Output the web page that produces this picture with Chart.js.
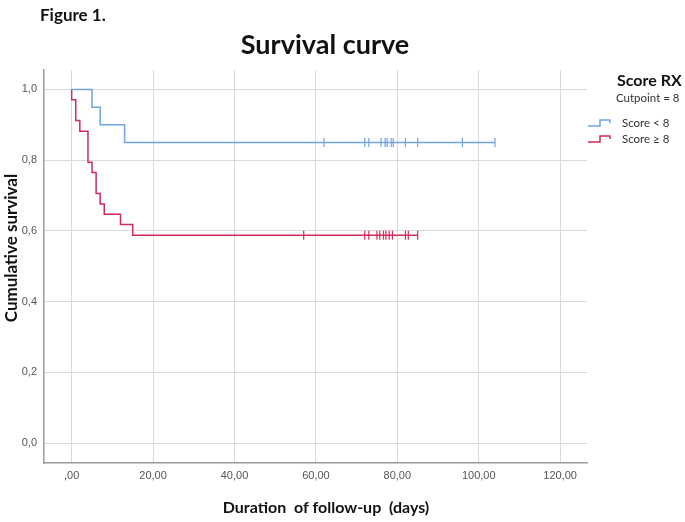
<!DOCTYPE html>
<html>
<head>
<meta charset="utf-8">
<script src="https://cdn.jsdelivr.net/npm/chart.js@4"></script>
<style>
  html, body { margin: 0; padding: 0; background: #fff; }
</style>
</head>
<body>
<canvas id="km" width="685" height="522"></canvas>
<script>
// Kaplan-Meier steps
const lowTimes = [0, 5, 7, 13, 104];
const lowSurv = [1.0, 0.95, 0.90, 0.85, 0.85];
const lowCensored = [62, 72, 73, 76, 77, 77.5, 78.5, 79, 82, 85, 96, 104];

const highTimes = [0, 0, 1, 2, 4, 5, 6, 7, 8, 12, 15, 85];
const highSurv = [1.0, 0.971, 0.912, 0.882, 0.794, 0.765, 0.706, 0.676, 0.647, 0.618, 0.588, 0.588];
const highCensored = [57, 72, 73, 75, 75.7, 76.6, 77.2, 78, 78.8, 82, 82.7, 85];

const xTickValues = [0, 20, 40, 60, 80, 100, 120];
const xTickLabels = [',00', '20,00', '40,00', '60,00', '80,00', '100,00', '120,00'];
const yTickValues = [0, 0.2, 0.4, 0.6, 0.8, 1.0];
const yTickLabels = ['0,0', '0,2', '0,4', '0,6', '0,8', '1,0'];

const legendLabels = ['Score < 8', 'Score \u2265 8'];

const blue = '#72a3e2';
const red = '#d42a58';

function toPoints(xs, ys) {
    return xs.map((x, i) => ({ x: x, y: ys[i] }));
}

function censorPoints(xs, level) {
    return xs.map(x => ({ x: x, y: level }));
}

const extraText = {
    id: 'extraText',
    afterDraw: (chart) => {
        const c = chart.ctx;
        c.save();
        c.fillStyle = '#111';
        c.textBaseline = 'middle';
        c.textAlign = 'left';
        c.font = 'bold 17px Lato';
        c.fillText('Figure 1.', 40, 16);

        c.textAlign = 'center';
        c.font = 'bold 27px Lato';
        c.fillText('Survival curve', 325, 45);

        // axis titles sit a little off the plot centre in the figure
        c.font = 'bold 16px Lato';
        c.fillText('Duration  of follow-up  (days)', 326, 508);

        c.save();
        c.translate(12, 248);
        c.rotate(-Math.PI / 2);
        c.font = 'bold 17px Lato';
        c.fillText('Cumulative survival', 0, 0);
        c.restore();

        c.textAlign = 'left';
        c.font = 'bold 16px Lato';
        c.fillText('Score RX', 617, 81);
        c.font = '11.5px Lato';
        c.fillStyle = '#333';
        c.fillText('Cutpoint = 8', 616, 98);

        const rows = [[blue, 123], [red, 139]];
        rows.forEach((r, i) => {
            const y = r[1];
            c.strokeStyle = r[0];
            c.lineWidth = 1.5;
            c.beginPath();
            c.moveTo(588, y + 3);
            c.lineTo(600, y + 3);
            c.lineTo(600, y - 3);
            c.lineTo(610, y - 3);
            c.lineTo(610, y);
            c.stroke();
            c.fillStyle = '#333';
            c.font = '11.5px Lato';
            c.fillText(legendLabels[i], 622, y);
        });
        c.restore();
    }
};

const ctx = document.getElementById('km');

new Chart(ctx, {
    type: 'scatter',
    data: {
        datasets: [
            {
                data: toPoints(lowTimes, lowSurv),
                showLine: true,
                stepped: true,
                borderColor: blue,
                borderWidth: 1.5,
                pointRadius: 0
            },
            {
                data: toPoints(highTimes, highSurv),
                showLine: true,
                stepped: true,
                borderColor: red,
                borderWidth: 1.5,
                pointRadius: 0
            },
            {
                data: censorPoints(lowCensored, lowSurv[lowSurv.length - 1]),
                showLine: false,
                pointStyle: 'line',
                rotation: 90,
                pointRadius: 4.5,
                borderColor: blue,
                borderWidth: 1.2
            },
            {
                data: censorPoints(highCensored, highSurv[highSurv.length - 1]),
                showLine: false,
                pointStyle: 'line',
                rotation: 90,
                pointRadius: 4.5,
                borderColor: red,
                borderWidth: 1.2
            }
        ]
    },
    options: {
        responsive: false,
        animation: false,
        layout: { padding: { top: 70, right: 98, left: 0, bottom: 0 } },
        plugins: {
            legend: { display: false },
            title: { display: false },
            tooltip: { enabled: false }
        },
        scales: {
            x: {
                type: 'linear',
                min: -6.8,
                max: 126.6,
                afterBuildTicks: (s) => { s.ticks = xTickValues.map(v => ({ value: v })); },
                afterFit: (s) => { s.height = 59; },
                ticks: {
                    autoSkip: false,
                    maxRotation: 0,
                    padding: 6,
                    color: '#555',
                    font: { family: 'Liberation Sans', size: 11 },
                    callback: (v, i) => xTickLabels[i]
                },
                grid: { color: '#dadada', drawTicks: false },
                border: { color: '#9b9b9b', width: 1.5 }
            },
            y: {
                min: -0.056,
                max: 1.055,
                afterBuildTicks: (s) => { s.ticks = yTickValues.map(v => ({ value: v })); },
                afterFit: (s) => { s.width = 44; },
                ticks: {
                    padding: 7,
                    color: '#555',
                    font: { family: 'Liberation Sans', size: 11 },
                    callback: (v, i) => yTickLabels[i]
                },
                grid: { color: '#dadada', drawTicks: false },
                border: { color: '#9b9b9b', width: 1.5 }
            }
        }
    },
    plugins: [extraText]
});
</script>
</body>
</html>
